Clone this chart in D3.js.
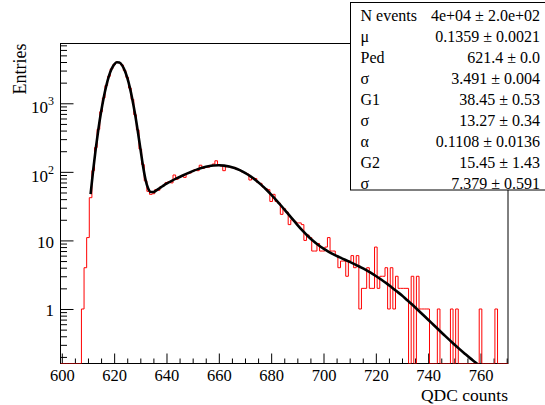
<!DOCTYPE html>
<html><head><meta charset="utf-8">
<script src="https://cdn.jsdelivr.net/npm/d3@7"></script>
<style>
body{margin:0;background:#fff;}
svg{display:block;font-family:"Liberation Serif","Times New Roman",serif;}
</style></head><body>
<svg id="c" width="545" height="405"></svg>
<script>
// ---------------- data ----------------
const binStart = 600; // centre of first bin (bin width 1)
const binCounts = [
  0,0,0,0,0,0,0,0,
  1,4,11,42,104,226,418,752,1195,1820,2470,3170,
  3660,3990,3900,3620,3010,2380,1670,1140,680,410,
  215,128,74,52,47,48,55,54,61,64,
  70,72,69,90,78,84,86,83,94,96,
  101,108,104,125,112,118,117,122,130,145,
  128,122,104,120,118,115,116,108,106,100,
  97,93,76,82,80,70,68,60,57,55,
  37,47,37,35,24,29,26,17,20,19,
  18,18,17,10,12,11,7,7,9,7,
  7,8,11,7,7,6,4,5,5,3,
  5,6,4,6,1,2,2,4,2,2,
  8,2,3,3,4,1,4,1,3,2,
  2,2,2,0,3,0,3,1,1,1,
  1,0,0,0,1,0,0,0,0,1,
  0,1,0,0,0,0,0,0,0,0,
  1,0,0,0,0,0,1,0,0,0,
  0
];
const fitX = [611,612,613,614,615,616,617,618,619,620,621,622,623,624,625,626,627,628,629,630,
  631,632,633,634,635,636,637,638,639,640,642,644,646,648,650,652,654,656,658,660,
  662,664,666,668,670,672,674,676,678,680,682,684,686,688,690,692,694,696,698,700,
  702,704,706,708,710,712,714,716,718,720,722,724,726,728,730,732,734,736,738,740,
  742,744,746,748,750,752,754,756,758,760,762];
const fitY = [47.4,106.5,221.7,423,745,1208,1805,2487,3154,3687,3970,3939,3601,3035,2359,1691,1121,691,399,222,
  124,76.8,57.1,50.9,50.8,53.4,56.6,60.0,63.6,67.1,73.9,80.8,87.8,95.1,102.5,109.6,115.8,120.8,123.9,124.9,
  123.4,119.6,113.7,105.9,96.6,86.6,76.1,65.7,55.8,46.6,38.5,31.5,25.6,20.8,16.9,13.9,11.6,9.86,8.55,7.57,
  6.81,6.21,5.71,5.27,4.86,4.48,4.10,3.74,3.38,3.03,2.69,2.38,2.08,1.81,1.57,1.34,1.15,0.974,0.824,0.698,
  0.589,0.497,0.421,0.357,0.304,0.26,0.223,0.192,0.167,0.145,0.126];
const xMajorTicks = [600,620,640,660,680,700,720,740,760];
const yMajorTicks = [1,10,100,1000];
const statNames = ["N events","\u03bc","Ped","\u03c3","G1","\u03c3","\u03b1","G2","\u03c3"];
const statValues = ["4e+04 \u00b1 2.0e+02","0.1359 \u00b1 0.0021","621.4 \u00b1 0.0","3.491 \u00b1 0.004",
  "38.45 \u00b1 0.53","13.27 \u00b1 0.34","0.1108 \u00b1 0.0136","15.45 \u00b1 1.43","7.379 \u00b1 0.591"];
const xTitle = "QDC counts", yTitle = "Entries";

// ---------------- layout ----------------
const svg = d3.select("#c");
const L = 60.5, R = 508, T = 43.5, B = 363.5;
const xDomain = [binStart - 0.5, binStart - 0.5 + binCounts.length];
const yMin = 0.1603, yMax = 7447;
const x = d3.scaleLinear().domain(xDomain).range([L, R]);
const y = d3.scaleLog().domain([yMin, yMax]).range([B, T]);

svg.append("defs").append("clipPath").attr("id","plot")
  .append("rect").attr("x",L).attr("y",T).attr("width",R-L).attr("height",B-T);

// x axis: minor then major ticks (pointing inwards)
const xMinor = d3.range(600, 771, 5).filter(v => !xMajorTicks.includes(v));
svg.append("g").attr("transform",`translate(0,${B})`)
  .call(d3.axisBottom(x).tickValues(xMinor).tickSize(-5).tickFormat(""))
  .call(g => { g.select(".domain").remove(); g.selectAll("line").attr("stroke","#000"); });
svg.append("g").attr("transform",`translate(0,${B})`)
  .call(d3.axisBottom(x).tickValues(xMajorTicks).tickSize(-10).tickPadding(7).tickFormat(d3.format("d")))
  .call(g => {
    g.select(".domain").remove();
    g.selectAll("line").attr("stroke","#000");
    g.selectAll("text").attr("font-size",16.5).attr("fill","#000")
      .attr("font-family","'Liberation Serif',serif").attr("dy",null).attr("y",17.5);
  });

// y axis: minor ticks 2..9 per decade
const yMinor = [];
for (let e = -1; e <= 3; e++) for (let k = 2; k <= 9; k++) {
  const v = k * Math.pow(10, e);
  if (v >= yMin && v <= yMax) yMinor.push(v);
}
svg.append("g").attr("transform",`translate(${L},0)`)
  .call(d3.axisLeft(y).tickValues(yMinor).tickSize(-6.5).tickFormat(""))
  .call(g => { g.select(".domain").remove(); g.selectAll("line").attr("stroke","#000"); });
svg.append("g").attr("transform",`translate(${L},0)`)
  .call(d3.axisLeft(y).tickValues(yMajorTicks).tickSize(-13).tickPadding(7).tickFormat(""))
  .call(g => {
    g.select(".domain").remove();
    g.selectAll("line").attr("stroke","#000");
    g.selectAll(".tick text").each(function(d){
      const t = d3.select(this).attr("font-size",17).attr("fill","#000")
        .attr("font-family","'Liberation Serif',serif").attr("dy",null).attr("x",-6.5);
      const e = Math.round(Math.log10(d));
      if (e <= 1) { t.attr("y",7).text(String(d)); }
      else {
        t.attr("y",9.5).text("10");
        t.append("tspan").attr("dy",-8).attr("font-size",12).text(String(e));
      }
    });
  });

// frame
svg.append("rect").attr("x",L).attr("y",T).attr("width",R-L).attr("height",B-T)
  .attr("fill","none").attr("stroke","#000").attr("stroke-width",1);

// histogram
const pts = [];
binCounts.forEach((c,i) => {
  const lo = binStart + i - 0.5, hi = lo + 1;
  const v = Math.max(c, yMin);
  pts.push([lo, v], [hi, v]);
});
svg.append("path").attr("clip-path","url(#plot)")
  .attr("d", d3.line().x(d => x(d[0])).y(d => y(d[1]))(pts))
  .attr("fill","none").attr("stroke","#ff0000").attr("stroke-width",1);

// fit curve
svg.append("path").attr("clip-path","url(#plot)")
  .attr("d", d3.line().x((d,i)=>x(fitX[i])).y((d,i)=>y(fitY[i])).curve(d3.curveMonotoneX)(fitX))
  .attr("fill","none").attr("stroke","#000").attr("stroke-width",2.6).attr("stroke-linejoin","round");

// axis titles
svg.append("text").attr("x",R).attr("y",400.5).attr("text-anchor","end")
  .attr("font-size",17.5).attr("fill","#000").text(xTitle);
svg.append("text").attr("transform",`translate(26,${T}) rotate(-90)`).attr("text-anchor","end")
  .attr("font-size",18).attr("fill","#000").text(yTitle);

// stats box
const sb = {x:350.5, y:2.5, w:200, h:187.5};
svg.append("rect").attr("x",sb.x).attr("y",sb.y).attr("width",sb.w).attr("height",sb.h)
  .attr("fill","#fff").attr("stroke","#000").attr("stroke-width",1);
const rowH = 21;
statNames.forEach((n,i) => {
  const by = 21 + i*rowH;
  svg.append("text").attr("x",sb.x+10).attr("y",by).attr("font-size",16).attr("fill","#000").text(n);
  svg.append("text").attr("x",540).attr("y",by).attr("text-anchor","end")
    .attr("font-size",16).attr("fill","#000").text(statValues[i]);
});
</script></body></html>
